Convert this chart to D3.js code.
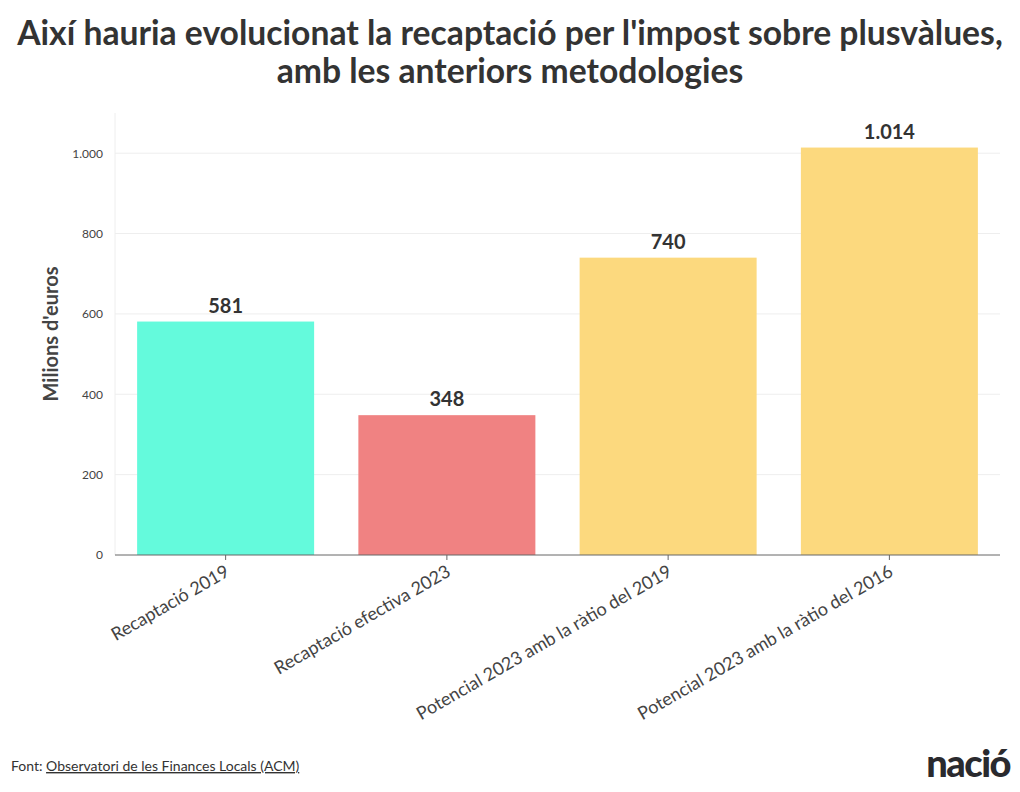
<!DOCTYPE html>
<html>
<head>
<meta charset="utf-8">
<script src="https://cdn.jsdelivr.net/npm/d3@7"></script>
<style>
  body { margin: 0; background: #fff; }
  text { font-family: "Source Sans Pro", "Lato", "Noto Sans", sans-serif; }
</style>
</head>
<body>
<svg width="1020" height="792"></svg>
<script>
var categories = ["Recaptació 2019", "Recaptació efectiva 2023", "Potencial 2023 amb la ràtio del 2019", "Potencial 2023 amb la ràtio del 2016"]
var values = [581, 348, 740, 1014]
var colors = ["#64fadc", "#f08282", "#fcd97e", "#fcd97e"]
var yTicks = [0, 200, 400, 600, 800, 1000]
var titleLines = ["Així hauria evolucionat la recaptació per l'impost sobre plusvàlues,", "amb les anteriors metodologies"]

var svg = d3.select("svg")
var margin = {left: 115, right: 1000, top: 113, bottom: 555}

var fmt = function (v) { return d3.format(",")(v).replace(/,/g, ".") }

var x = d3.scaleBand().domain(categories).range([margin.left, margin.right])
  .paddingInner(0.2).paddingOuter(0.1)
var y = d3.scaleLinear().domain([0, 1100]).range([margin.bottom, margin.top])

// fit a text to a width by changing font size
function fit(sel, width, maxSize) {
  var size = maxSize
  sel.style("font-size", size + "px")
  var w = sel.node().getComputedTextLength()
  if (w > width) {
    size = size * width / w
    sel.style("font-size", size + "px")
  }
  return size
}

// title
var t1 = svg.append("text").attr("x", 510).attr("y", 45).attr("text-anchor", "middle")
  .attr("font-weight", 700).attr("fill", "#333").text(titleLines[0])
var ts = fit(t1, 986, 36)
svg.append("text").attr("x", 510).attr("y", 83).attr("text-anchor", "middle")
  .attr("font-weight", 700).attr("fill", "#333").style("font-size", ts + "px").text(titleLines[1])

// grid
svg.append("g").selectAll("line").data(yTicks.slice(1)).enter().append("line")
  .attr("x1", margin.left).attr("x2", margin.right)
  .attr("y1", function (d) { return y(d) }).attr("y2", function (d) { return y(d) })
  .attr("stroke", "#eee")
svg.append("line").attr("x1", margin.left).attr("x2", margin.left)
  .attr("y1", margin.top).attr("y2", margin.bottom).attr("stroke", "#eee")

// y axis
var yAxis = svg.append("g").attr("transform", "translate(" + (margin.left - 4) + ",0)")
  .call(d3.axisLeft(y).tickValues(yTicks).tickSize(0).tickPadding(8).tickFormat(fmt))
yAxis.select(".domain").remove()
yAxis.selectAll("text").style("font-size", "12px").attr("fill", "#444")

svg.append("text").attr("transform", "translate(58," + ((margin.top + margin.bottom) / 2) + ") rotate(-90)")
  .attr("text-anchor", "middle").attr("font-weight", 700).attr("fill", "#444")
  .style("font-size", "20px").text("Milions d'euros")

// bars
svg.append("g").selectAll("rect").data(values).enter().append("rect")
  .attr("x", function (d, i) { return x(categories[i]) })
  .attr("y", function (d) { return y(d) })
  .attr("width", x.bandwidth())
  .attr("height", function (d) { return y(0) - y(d) })
  .attr("fill", function (d, i) { return colors[i] })

svg.append("g").selectAll("text").data(values).enter().append("text")
  .attr("x", function (d, i) { return x(categories[i]) + x.bandwidth() / 2 })
  .attr("y", function (d) { return y(d) - 9 })
  .attr("text-anchor", "middle").attr("font-weight", 700).attr("fill", "#333")
  .style("font-size", "20px").text(fmt)

// x axis
var xAxis = svg.append("g").attr("transform", "translate(0," + margin.bottom + ")")
  .call(d3.axisBottom(x).tickSize(5).tickSizeOuter(0))
xAxis.select(".domain").attr("stroke", "#666").attr("d", "M" + margin.left + ",0H" + margin.right)
xAxis.selectAll(".tick line").attr("stroke", "#666")
xAxis.selectAll("text").style("font-size", "18px").attr("fill", "#444")
  .attr("text-anchor", "end").attr("dy", null)
  .attr("transform", "translate(5,20) rotate(-30)").attr("y", 0).attr("x", 0)

// footer
var foot = svg.append("text").attr("x", 11).attr("y", 771).style("font-size", "14px").attr("fill", "#333")
foot.append("tspan").text("Font: ")
foot.append("tspan").attr("text-decoration", "underline").text("Observatori de les Finances Locals (ACM)")

svg.append("text").attr("x", 1010).attr("y", 777).attr("text-anchor", "end")
  .attr("font-weight", 900).attr("fill", "#2a2a2e").style("font-size", "38px")
  .style("letter-spacing", "-1.5px").text("nació")
</script>
</body>
</html>
